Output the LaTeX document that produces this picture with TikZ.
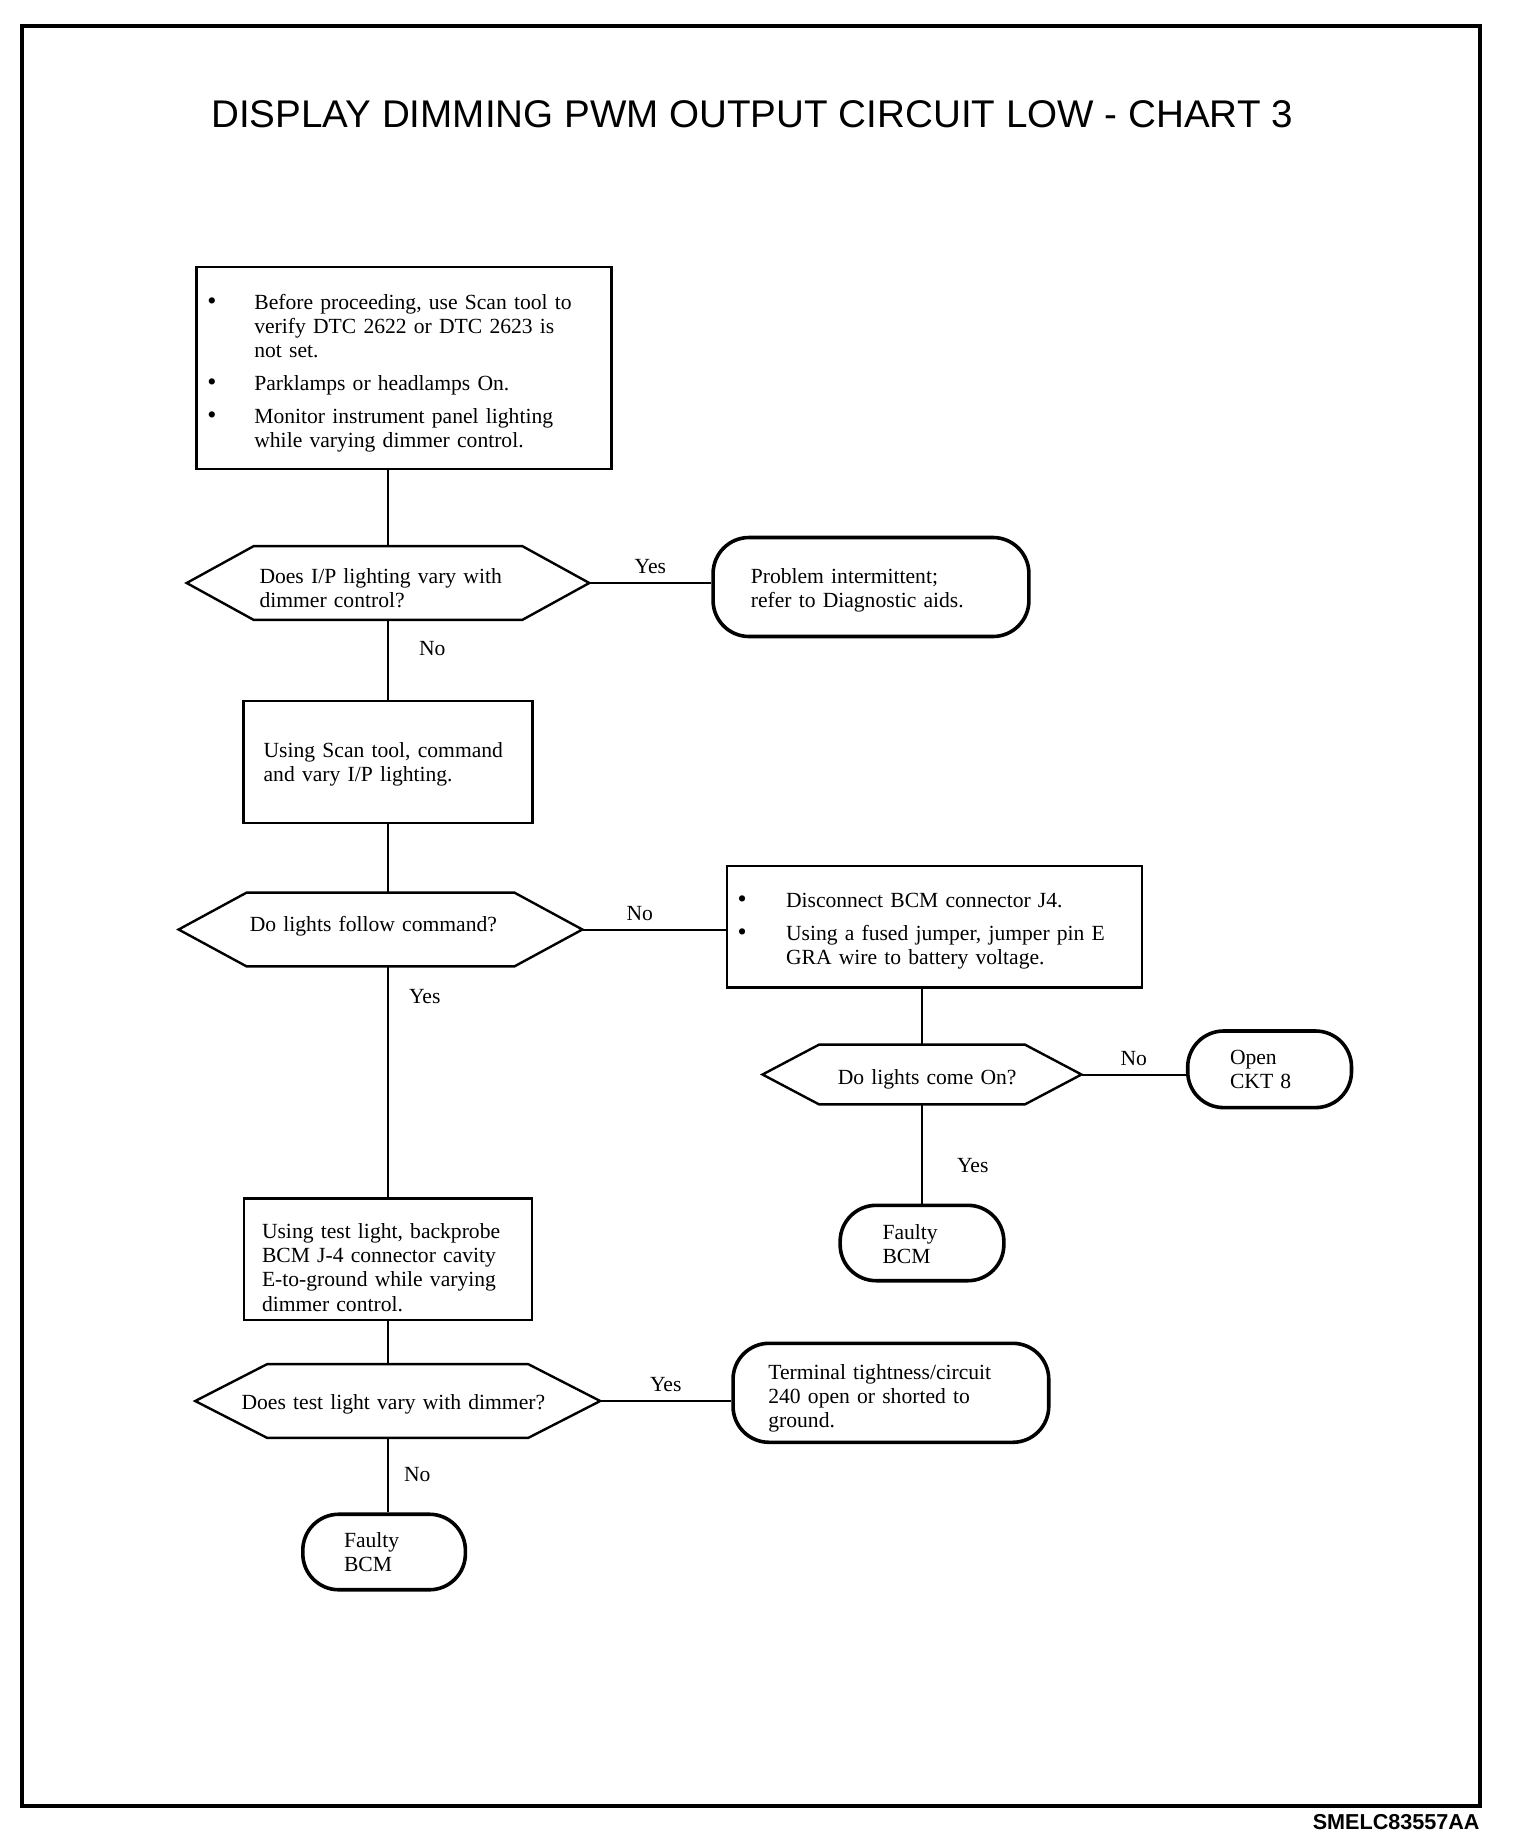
\documentclass[tikz,border=0pt]{standalone}
\usepackage{fontspec}
\setmainfont{Liberation Serif}
\newfontfamily\arialfont{Liberation Sans}
\usepackage{tikz}
\usetikzlibrary{calc}

% hexagon drawn on the frame of a plain question node
\newcommand{\hexa}[2]{%
  \draw[qln] (#1.west) -- ([xshift=#2]#1.north west) -- ([xshift=-#2]#1.north east)
    -- (#1.east) -- ([xshift=-#2]#1.south east) -- ([xshift=#2]#1.south west) -- cycle;}
% node text, lowered a little inside its box
\newcommand{\ntx}[2][0pt]{\raisebox{-#1}[\height][\depth]{\begin{tabular}{@{}l@{}}#2\end{tabular}}}
\newcommand{\ntb}[3][0pt]{\raisebox{-#1}[\height][\depth]{\begin{tabular}{@{}p{#2}@{}l@{}}#3\end{tabular}}}
\newcommand{\bul}{{\fontsize{13}{12}\selectfont\textbullet}}

\begin{document}
\begin{tikzpicture}[x=0.5pt, y=-0.5pt]
    \tikzstyle{stp} = [draw, line width=1.2pt, rectangle, align=left, inner ysep=0pt, font=\fontsize{10.8}{12.1}\selectfont];
    \tikzstyle{qst} = [rectangle, inner ysep=0pt, align=left, font=\fontsize{10.8}{12.1}\selectfont];
    \tikzstyle{qln} = [line width=1.2pt, line join=miter];
    \tikzstyle{trm} = [draw, line width=1.8pt, rectangle, rounded corners=18pt, align=left, inner ysep=0pt, font=\fontsize{10.8}{12.1}\selectfont];
    \tikzstyle{lnk} = [line width=1pt];
    \tikzstyle{lbl} = [inner sep=1pt, font=\fontsize{10.8}{12.1}\selectfont];

    \useasboundingbox (0, 0) rectangle (1520, 1848);
    \draw[line width=2pt] (22, 26) rectangle (1480, 1806);

    \node (title) at (752, 114) [font=\arialfont\fontsize{19.3}{23}\selectfont]
      {DISPLAY DIMMING PWM OUTPUT CIRCUIT LOW - CHART 3};
    \node (code) at (1480, 1822) [anchor=east, inner sep=0pt, font=\arialfont\bfseries\fontsize{10.8}{13}\selectfont]
      {SMELC83557AA};

    % left column
    \node (box1) at (404, 368) [stp, minimum width=207.35pt, minimum height=100.75pt,
      inner xsep=5.35pt, text width=196.65pt]
      {\ntb[2.65pt]{23.5pt}{\bul & Before proceeding, use Scan tool to\\ & verify DTC 2622 or DTC 2623 is\\ & not set.\\[4.3pt]
        \bul & Parklamps or headlamps On.\\[4.3pt]
        \bul & Monitor instrument panel lighting\\ & while varying dimmer control.}};
    \node (d1)   at (388, 583) [qst, minimum width=200.9pt, minimum height=36.5pt,
      inner xsep=36.2pt, text width=128.5pt]
      {\ntx[3.65pt]{Does I/P lighting vary with\\ dimmer control?}};
    \node (box2) at (388, 762) [stp, minimum width=144.35pt, minimum height=60.75pt,
      inner xsep=10pt, text width=124.35pt]
      {\ntx[1.3pt]{Using Scan tool, command\\ and vary I/P lighting.}};
    \node (d2)   at (380.5, 929.5) [qst, minimum width=201.5pt, minimum height=36.5pt,
      inner xsep=35.4pt, text width=130.7pt]
      {\ntx[-1.65pt]{Do lights follow command?}};
    \node (box4) at (388, 1259) [stp, minimum width=143.8pt, minimum height=60.7pt,
      inner xsep=8.9pt, text width=126pt]
      {\ntx[5.5pt]{Using test light, backprobe\\ BCM J-4 connector cavity\\ E-to-ground while varying\\ dimmer control.}};
    \node (d4)   at (397.7, 1401) [qst, minimum width=202.1pt, minimum height=36.5pt,
      inner xsep=23pt, text width=156.1pt]
      {\ntx[1.85pt]{Does test light vary with dimmer?}};
    \node (bcm2) at (384.1, 1552) [trm, minimum width=81.3pt, minimum height=37.75pt,
      inner xsep=20.6pt, text width=40.1pt]
      {\ntx[1.25pt]{Faulty\\ BCM}};

    % right column
    \node (t1)   at (871, 587) [trm, minimum width=157.9pt, minimum height=49.5pt,
      inner xsep=18.85pt, text width=120.2pt]
      {\ntx[1.85pt]{Problem intermittent;\\ refer to Diagnostic aids.}};
    \node (box3) at (934.4, 926.7) [stp, minimum width=207.4pt, minimum height=60.7pt,
      inner xsep=5.25pt, text width=196.9pt]
      {\ntb[2.35pt]{24.25pt}{\bul & Disconnect BCM connector J4.\\[4.3pt]
        \bul & Using a fused jumper, jumper pin E\\ & GRA wire to battery voltage.}};
    \node (d3)   at (922, 1074.5) [qst, minimum width=159.1pt, minimum height=29.5pt,
      inner xsep=37.45pt, text width=84.2pt]
      {\ntx[2.45pt]{Do lights come On?}};
    \node (open) at (1269.6, 1069.3) [trm, minimum width=81.9pt, minimum height=38.3pt,
      inner xsep=21.15pt, text width=39.6pt]
      {\ntx[1.25pt]{Open\\ CKT 8}};
    \node (bcm1) at (922, 1243) [trm, minimum width=81.85pt, minimum height=37.7pt,
      inner xsep=21.2pt, text width=39.45pt]
      {\ntx[1.85pt]{Faulty\\ BCM}};
    \node (t3)   at (890.9, 1392.8) [trm, minimum width=157.85pt, minimum height=49.5pt,
      inner xsep=17.65pt, text width=122.55pt]
      {\ntx[3.05pt]{Terminal tightness/circuit\\ 240 open or shorted to\\ ground.}};

    \hexa{d1}{33.5pt}
    \hexa{d2}{34pt}
    \hexa{d3}{28.3pt}
    \hexa{d4}{36pt}

    \begin{scope}[lnk]
      \draw (box1.south -| d1) -- (d1);
      \draw (d1) -- node (no1) [lbl, pos=0.36, right=14pt] {No} (box2);
      \draw (box2) -- (box2 |- d2.north);
      \draw (d2.south -| box4) -- node (yes2) [lbl, pos=0.13, right=9pt] {Yes} (box4);
      \draw (box4) -- (box4 |- d4.north);
      \draw (d4.south -| box4) -- node (no4) [lbl, pos=0.49, right=6.5pt] {No} (bcm2.north -| box4);

      \draw (d1.east) -- node (yes1) [lbl, above=3pt] {Yes} (d1.east -| t1.west);
      \draw (d2.east) -- node (no2) [lbl, pos=0.4, above=3pt] {No} (d2.east -| box3.west);
      \draw (box3.south -| d3) -- (d3);
      \draw (d3.east) -- node (no3) [lbl, above=3pt] {No} (d3.east -| open.west);
      \draw (d3) -- node (yes3) [lbl, pos=0.62, right=16pt] {Yes} (bcm1);
      \draw (d4.east) -- node (yes4) [lbl, above=3pt] {Yes} (d4.east -| t3.west);
    \end{scope}
\end{tikzpicture}
\end{document}
